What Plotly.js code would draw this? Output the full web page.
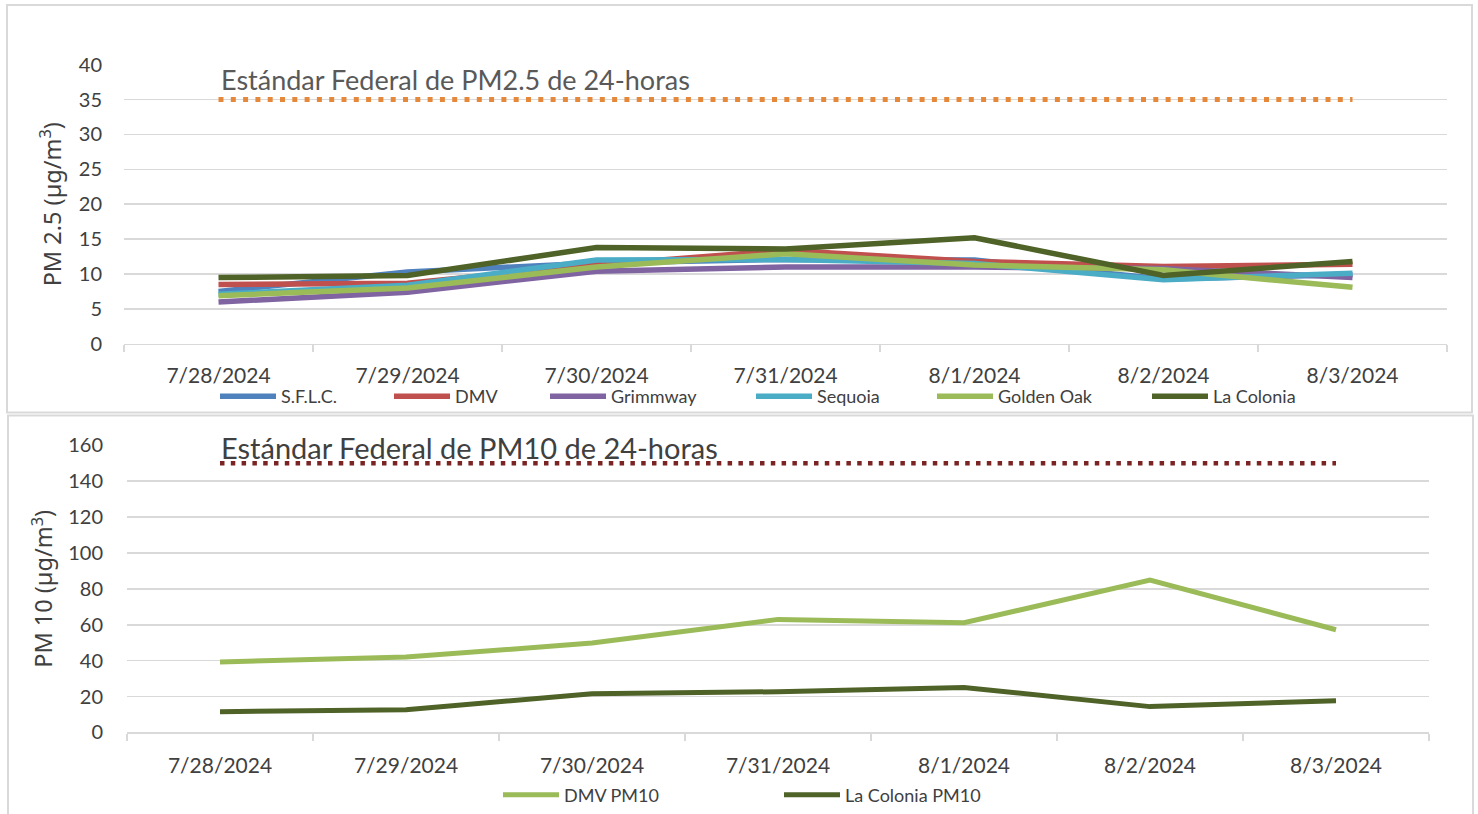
<!DOCTYPE html>
<html><head><meta charset="utf-8">
<script src="https://cdn.plot.ly/plotly-3.0.1.min.js"></script>
<style>html,body{margin:0;padding:0;background:#fff;} #chart{width:1478px;height:814px;}</style>
</head><body><div id="chart"></div>
<script>
// ---- data ----
const dates = ['7/28/2024','7/29/2024','7/30/2024','7/31/2024','8/1/2024','8/2/2024','8/3/2024'];
const sflc      = [7.5, 10.3, 11.6, 12.1, 12.0, 9.3, 9.9];
const dmv       = [8.5, 8.7, 11.3, 13.4, 11.8, 11.1, 11.4];
const grimmway  = [6.0, 7.4, 10.4, 11.0, 11.0, 10.8, 9.5];
const sequoia   = [7.1, 8.4, 12.0, 12.1, 11.5, 9.2, 10.1];
const goldenOak = [6.9, 8.0, 11.0, 12.9, 11.3, 10.6, 8.1];
const laColonia = [9.5, 9.8, 13.8, 13.6, 15.2, 9.8, 11.8];
const pm25Standard = [35, 35, 35, 35, 35, 35, 35];
const dmvPM10       = [39.3, 42.0, 49.8, 63.0, 61.1, 84.9, 57.2];
const laColoniaPM10 = [11.6, 12.7, 21.6, 22.7, 25.1, 14.4, 17.7];
const pm10Standard  = [150, 150, 150, 150, 150, 150, 150];
const pm25Ticks = [0, 5, 10, 15, 20, 25, 30, 35, 40];
const pm10Ticks = [0, 20, 40, 60, 80, 100, 120, 140, 160];

// ---- layout helpers ----
const W = 1478, H = 814;
const px = v => v / W;
const py = v => 1 - v / H;
const FONT = 'Lato, "Liberation Sans", sans-serif';
const TXT = '#404040';
const GRID = '#d9d9d9';

const topSeries = [
  {name: 'S.F.L.C.', y: sflc, color: '#4F81BD', legend: 'legend', lx: 220},
  {name: 'DMV', y: dmv, color: '#C0504D', legend: 'legend2', lx: 394},
  {name: 'Grimmway', y: grimmway, color: '#8064A2', legend: 'legend3', lx: 550},
  {name: 'Sequoia', y: sequoia, color: '#4BACC6', legend: 'legend4', lx: 756},
  {name: 'Golden Oak', y: goldenOak, color: '#9BBB59', legend: 'legend5', lx: 937},
  {name: 'La Colonia', y: laColonia, color: '#4F6228', legend: 'legend6', lx: 1152}
];
const bottomSeries = [
  {name: 'DMV PM10', y: dmvPM10, color: '#9BBB59', legend: 'legend7', lx: 503},
  {name: 'La Colonia PM10', y: laColoniaPM10, color: '#4F6228', legend: 'legend8', lx: 784}
];

const traces = [];
traces.push({x: dates, y: pm25Standard, type: 'scatter', mode: 'lines', xaxis: 'x', yaxis: 'y',
  line: {color: '#E6883A', width: 5, dash: '5px,7.3px'}, showlegend: false, hoverinfo: 'skip'});
topSeries.forEach(s => traces.push({x: dates, y: s.y, name: s.name, type: 'scatter', mode: 'lines',
  xaxis: 'x', yaxis: 'y', legend: s.legend, line: {color: s.color, width: 5.5}}));
traces.push({x: dates, y: pm10Standard, type: 'scatter', mode: 'lines', xaxis: 'x2', yaxis: 'y2',
  line: {color: '#7B2424', width: 4.5, dash: '4.5px,6.3px'}, showlegend: false, hoverinfo: 'skip'});
bottomSeries.forEach(s => traces.push({x: dates, y: s.y, name: s.name, type: 'scatter', mode: 'lines',
  xaxis: 'x2', yaxis: 'y2', legend: s.legend, line: {color: s.color, width: 5}}));

function xAxis(dom, standoff) {
  return {type: 'category', domain: dom, range: [-0.5, 6.5], showgrid: false, zeroline: false,
    showline: true, linecolor: GRID, linewidth: 1.5, ticks: 'outside', tickson: 'boundaries',
    ticklen: 7, tickwidth: 1.5, tickcolor: GRID, ticklabelstandoff: standoff,
    tickfont: {family: FONT, size: 21, color: TXT}, fixedrange: true};
}
function yAxis(dom, range, ticks, title, anchor, standoff, tstand) {
  return {domain: dom, range: range, tickvals: ticks, showgrid: true, gridcolor: GRID, gridwidth: 1.5,
    zeroline: false, showline: false, ticks: '', ticklabelstandoff: standoff, anchor: anchor,
    tickfont: {family: FONT, size: 20, color: TXT}, fixedrange: true,
    title: {text: title, font: {family: '"Noto Sans", sans-serif', size: 23.5, color: TXT}, standoff: tstand}};
}

const layout = {
  width: W, height: H, margin: {l: 0, r: 0, t: 0, b: 0},
  paper_bgcolor: '#fff', plot_bgcolor: 'rgba(0,0,0,0)', showlegend: true,
  xaxis: Object.assign(xAxis([px(124), px(1447)], 12), {anchor: 'y'}),
  yaxis: yAxis([py(346), py(65)], [0, 40], pm25Ticks, 'PM 2.5 (µg/m<sup>3</sup>)', 'x', 21, 10),
  xaxis2: Object.assign(xAxis([px(127), px(1429)], 14), {anchor: 'y2'}),
  yaxis2: yAxis([py(737), py(448)], [0, 160], pm10Ticks, 'PM 10 (µg/m<sup>3</sup>)', 'x2', 23, 8),
  shapes: [
    {type: 'rect', xref: 'paper', yref: 'paper', x0: px(7), x1: px(1472), y0: py(415), y1: py(5),
     line: {color: GRID, width: 2}, layer: 'below'},
    {type: 'rect', xref: 'paper', yref: 'paper', x0: px(8), x1: px(1473), y0: py(830), y1: py(418),
     line: {color: GRID, width: 2}, layer: 'below'}
  ],
  annotations: [
    {text: 'Estándar Federal de PM2.5 de 24-horas', xref: 'paper', yref: 'paper', x: px(219), y: py(80),
     xanchor: 'left', yanchor: 'middle', showarrow: false, font: {family: FONT, size: 27, color: '#595959'}},
    {text: 'Estándar Federal de PM10 de 24-horas', xref: 'paper', yref: 'paper', x: px(219), y: py(450),
     xanchor: 'left', yanchor: 'middle', showarrow: false, font: {family: FONT, size: 29, color: '#404040'}}
  ]
};
[...topSeries, ...bottomSeries].forEach((s, i) => {
  const isTop = i < topSeries.length;
  layout[s.legend] = {orientation: 'h', x: px(s.lx - 5), xanchor: 'left', y: py(isTop ? 399 : 800), yanchor: 'middle',
    bgcolor: 'rgba(0,0,0,0)', borderwidth: 0, itemwidth: 56, font: {family: FONT, size: 18, color: TXT}};
});

Plotly.newPlot('chart', traces, layout, {displayModeBar: false, staticPlot: true});
</script></body></html>
